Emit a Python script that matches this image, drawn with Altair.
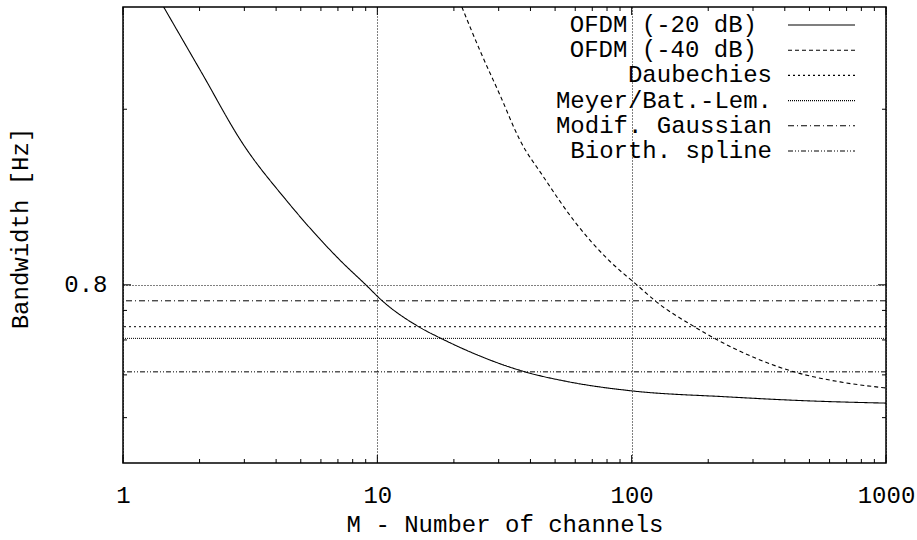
import altair as alt
import pandas as pd

# ---- data ----
m_ofdm20 = [1.445, 2.03, 2.96, 4.38, 7.13, 9.03, 10.4, 14.6, 18.0, 38.1, 56.8, 100, 235, 477, 1000]
bw_ofdm20 = [3.41, 2.43, 1.67, 1.245, 0.910, 0.799, 0.738, 0.642, 0.603, 0.508, 0.482, 0.460, 0.446, 0.437, 0.4315]

m_ofdm40 = [21.5, 25.3, 30.4, 36.4, 44.8, 59.9, 81.2, 105, 124, 177, 214, 435, 660, 1000]
bw_ofdm40 = [3.41, 2.72, 2.15, 1.70, 1.411, 1.110, 0.910, 0.799, 0.735, 0.642, 0.603, 0.508, 0.482, 0.467]

wavelet_names = ["Daubechies", "Meyer/Bat.-Lem.", "Modif. Gaussian", "Biorth. spline"]
wavelet_bw = [0.643, 0.605, 0.736, 0.508]

legend_labels = ["OFDM (-20 dB)", "OFDM (-40 dB)", "Daubechies", "Meyer/Bat.-Lem.",
                 "Modif. Gaussian", "Biorth. spline"]

x_major = [1, 10, 100, 1000]
x_minor = [2, 3, 4, 5, 6, 7, 8, 9, 20, 30, 40, 50, 60, 70, 80, 90,
           200, 300, 400, 500, 600, 700, 800, 900]
y_major = [0.8]
y_minor = [0.4, 0.5, 0.6, 0.7, 2.0]
x_range = [1, 1000]
y_range = [0.3157, 3.41]

# ---- styling ----
FONT = "Liberation Mono"
FS = 24
LFS = 24
W, H = 763, 456
dashes = {
    "OFDM (-20 dB)": [1, 0],
    "OFDM (-40 dB)": [4, 3],
    "Daubechies": [2, 3],
    "Meyer/Bat.-Lem.": [1, 1],
    "Modif. Gaussian": [6, 3, 1, 3],
    "Biorth. spline": [5, 2, 1, 2, 1, 2],
}

xs = alt.Scale(type="log", domain=x_range, nice=False)
ys = alt.Scale(type="log", domain=y_range, nice=False)

xaxis = alt.Axis(values=x_major, format="d", title="M - Number of channels",
                 labelFont=FONT, labelFontSize=FS, labelColor="black",
                 labelFlush=False, labelOverlap=False, labelBound=False,
                 labelPadding=32, labelBaseline="middle",
                 tickSize=0, domain=False,
                 grid=True, gridDash=[1, 2], gridColor="black", gridOpacity=1, gridWidth=1,
                 titleFont=FONT, titleFontSize=FS, titleFontWeight="normal",
                 titleColor="black", titleY=61, titleBaseline="middle")
yaxis = alt.Axis(values=y_major, format=".1f", title="Bandwidth [Hz]",
                 labelFont=FONT, labelFontSize=FS, labelColor="black",
                 labelFlush=False, labelOverlap=False, labelBound=False,
                 labelPadding=16, labelBaseline="middle",
                 tickSize=0, domain=False,
                 grid=True, gridDash=[1, 2], gridColor="black", gridOpacity=1, gridWidth=1,
                 titleFont=FONT, titleFontSize=FS, titleFontWeight="normal",
                 titleColor="black", titleX=-103, titleY=221,
                 titleBaseline="middle", titleAlign="center", titleAngle=270)


def X():
    return alt.X("M:Q", scale=xs, axis=xaxis)


def Y():
    return alt.Y("BW:Q", scale=ys, axis=yaxis)


layers = []

# tick marks (inward, mirrored)
xmaj = pd.DataFrame({"M": x_major})
xmin = pd.DataFrame({"M": x_minor})
ymaj = pd.DataFrame({"BW": y_major})
ymin = pd.DataFrame({"BW": y_minor})
for df, ln in ((xmaj, 8), (xmin, 4)):
    layers.append(alt.Chart(df).mark_rule(color="black", strokeWidth=1).encode(
        x=X(), y=alt.value(H), y2=alt.value(H - ln)))
    layers.append(alt.Chart(df).mark_rule(color="black", strokeWidth=1).encode(
        x=X(), y=alt.value(0), y2=alt.value(ln)))
for df, ln in ((ymaj, 8), (ymin, 4)):
    layers.append(alt.Chart(df).mark_rule(color="black", strokeWidth=1).encode(
        y=Y(), x=alt.value(0), x2=alt.value(ln)))
    layers.append(alt.Chart(df).mark_rule(color="black", strokeWidth=1).encode(
        y=Y(), x=alt.value(W), x2=alt.value(W - ln)))

# wavelet horizontal lines
for name, bw in zip(wavelet_names, wavelet_bw):
    layers.append(alt.Chart(pd.DataFrame({"BW": [bw]})).mark_rule(
        color="black", strokeWidth=1, strokeDash=dashes[name]).encode(y=Y()))

# OFDM curves
for name, mm, bb in (("OFDM (-20 dB)", m_ofdm20, bw_ofdm20),
                     ("OFDM (-40 dB)", m_ofdm40, bw_ofdm40)):
    layers.append(alt.Chart(pd.DataFrame({"M": mm, "BW": bb})).mark_line(
        color="black", strokeWidth=1.1, clip=True, interpolate="monotone",
        strokeDash=dashes[name]).encode(x=X(), y=Y()))

# legend (gnuplot style: right-aligned text, sample to the right)
for i, lab in enumerate(legend_labels):
    ry = 18 + 25.2 * i
    shift = -15 if lab.startswith("OFDM") else 0
    d = pd.DataFrame({"label": [lab]})
    layers.append(alt.Chart(d).mark_text(
        font=FONT, fontSize=LFS, align="right", baseline="middle", color="black",
        dx=shift).encode(
        text="label:N", x=alt.value(649), y=alt.value(ry)))
    layers.append(alt.Chart(d).mark_rule(
        color="black", strokeWidth=1.1, strokeDash=dashes[lab]).encode(
        x=alt.value(665), x2=alt.value(732), y=alt.value(ry)))

chart = alt.layer(*layers).properties(
    width=W, height=H,
    autosize=alt.AutoSizeParams(type="none"),
    padding={"left": 123, "top": 7, "right": 31, "bottom": 77},
    background="white",
).configure_view(stroke="black", strokeWidth=1.5)

chart.save("out.html", embed_options={"renderer": "svg", "actions": False})
